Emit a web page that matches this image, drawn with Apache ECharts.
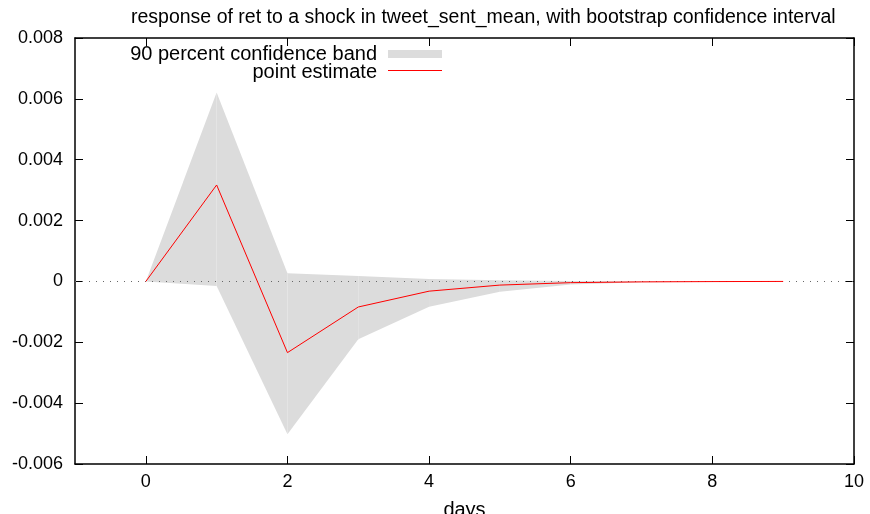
<!DOCTYPE html>
<html>
<head>
<meta charset="utf-8">
<script src="https://cdn.jsdelivr.net/npm/echarts@6/dist/echarts.min.js"></script>
<style>html,body{margin:0;padding:0;background:#fff}#c{width:870px;height:514px}</style>
</head>
<body>
<div id="c"></div>
<script>
var days = [0, 1, 2, 3, 4, 5, 6, 7, 8, 9];
var pointEstimate = [0, 0.00317, -0.00234, -0.00084, -0.00032, -0.00012, -0.00004, -0.000015, -0.000005, 0];
var bandUpper = [0, 0.00621, 0.00027, 0.00018, 0.00008, 0.00004, 0.00001, 0.000005, 0.000002, 0];
var bandLower = [0, -0.00015, -0.00502, -0.0019, -0.00083, -0.00034, -0.00010, -0.00003, -0.00001, 0];
var xTicks = [0, 2, 4, 6, 8, 10];
var titleText = 'response of ret to a shock in tweet_sent_mean, with bootstrap confidence interval';
var xName = 'days';
var bandName = '90 percent confidence band';
var lineName = 'point estimate';

var font = 'Liberation Sans, Arial, Helvetica, sans-serif';
var fs = 18;
var chart = echarts.init(document.getElementById('c'));
var bandData = days.map(function (d, i) { return [d, bandLower[i], bandUpper[i]]; });
var lineData = days.map(function (d, i) { return [d, pointEstimate[i]]; });

var axisLine = { show: true, onZero: false, lineStyle: { color: '#000', width: 1.5 } };
var tickStyle = { show: true, inside: true, length: 8, lineStyle: { color: '#000', width: 1 } };
var bandColor = '#dcdcdc';

chart.setOption({
  animation: false,
  title: {
    text: titleText, left: 126, top: 3,
    textStyle: { fontFamily: font, fontSize: 19.5, fontWeight: 'normal', color: '#000' }
  },
  graphic: [
    { type: 'text', right: 870 - 377, top: 44, style: { text: bandName, font: '20px ' + font, fill: '#000' } },
    { type: 'rect', shape: { x: 388, y: 50, width: 54, height: 8 }, style: { fill: bandColor } },
    { type: 'text', right: 870 - 377, top: 62, style: { text: lineName, font: '20px ' + font, fill: '#000' } },
    { type: 'line', shape: { x1: 388, y1: 70.5, x2: 442, y2: 70.5 }, style: { stroke: '#ff0000', lineWidth: 1 } }
  ],
  grid: { left: 75, right: 16, top: 38, bottom: 50, containLabel: false, outerBoundsMode: 'none' },
  xAxis: [{
    type: 'value', min: -1, max: 10, position: 'bottom',
    name: xName, nameLocation: 'middle', nameGap: 36,
    nameTextStyle: { fontFamily: font, fontSize: 20, color: '#000' },
    axisLine: axisLine,
    axisTick: Object.assign({ customValues: xTicks }, tickStyle),
    axisLabel: { customValues: xTicks, margin: 9, fontFamily: font, fontSize: fs, color: '#000' },
    splitLine: { show: false }
  }, {
    type: 'value', min: -1, max: 10, position: 'top',
    axisLine: axisLine,
    axisTick: Object.assign({ customValues: xTicks }, tickStyle),
    axisLabel: { show: false },
    splitLine: { show: false }
  }],
  yAxis: [{
    type: 'value', min: -0.006, max: 0.008, interval: 0.002, position: 'left',
    axisLine: axisLine, axisTick: tickStyle,
    axisLabel: {
      margin: 12, fontFamily: font, fontSize: fs, color: '#000',
      formatter: function (v) { return Math.abs(v) < 1e-12 ? '0' : v.toFixed(3); }
    },
    splitLine: { show: false }
  }, {
    type: 'value', min: -0.006, max: 0.008, interval: 0.002, position: 'right',
    axisLine: axisLine, axisTick: tickStyle,
    axisLabel: { show: false }, splitLine: { show: false }
  }],
  series: [{
    name: bandName, type: 'custom', data: bandData, z: 1, silent: true,
    encode: { x: 0, y: [1, 2] },
    renderItem: function (params, api) {
      var i = params.dataIndex;
      if (i >= bandData.length - 1) return null;
      var a = bandData[i], b = bandData[i + 1];
      var pts = [api.coord([a[0], a[1]]), api.coord([b[0], b[1]]), api.coord([b[0], b[2]]), api.coord([a[0], a[2]])];
      return { type: 'polygon', shape: { points: pts }, style: { fill: bandColor, stroke: null } };
    }
  }, {
    name: lineName, type: 'line', data: lineData, symbol: 'none', z: 3,
    lineStyle: { color: '#ff0000', width: 1 }, itemStyle: { color: '#ff0000' },
    markLine: {
      silent: true, symbol: 'none', label: { show: false }, z: 2,
      lineStyle: { color: '#666', type: [1, 6], width: 1 },
      data: [{ yAxis: 0 }]
    }
  }]
});
</script>
</body>
</html>
